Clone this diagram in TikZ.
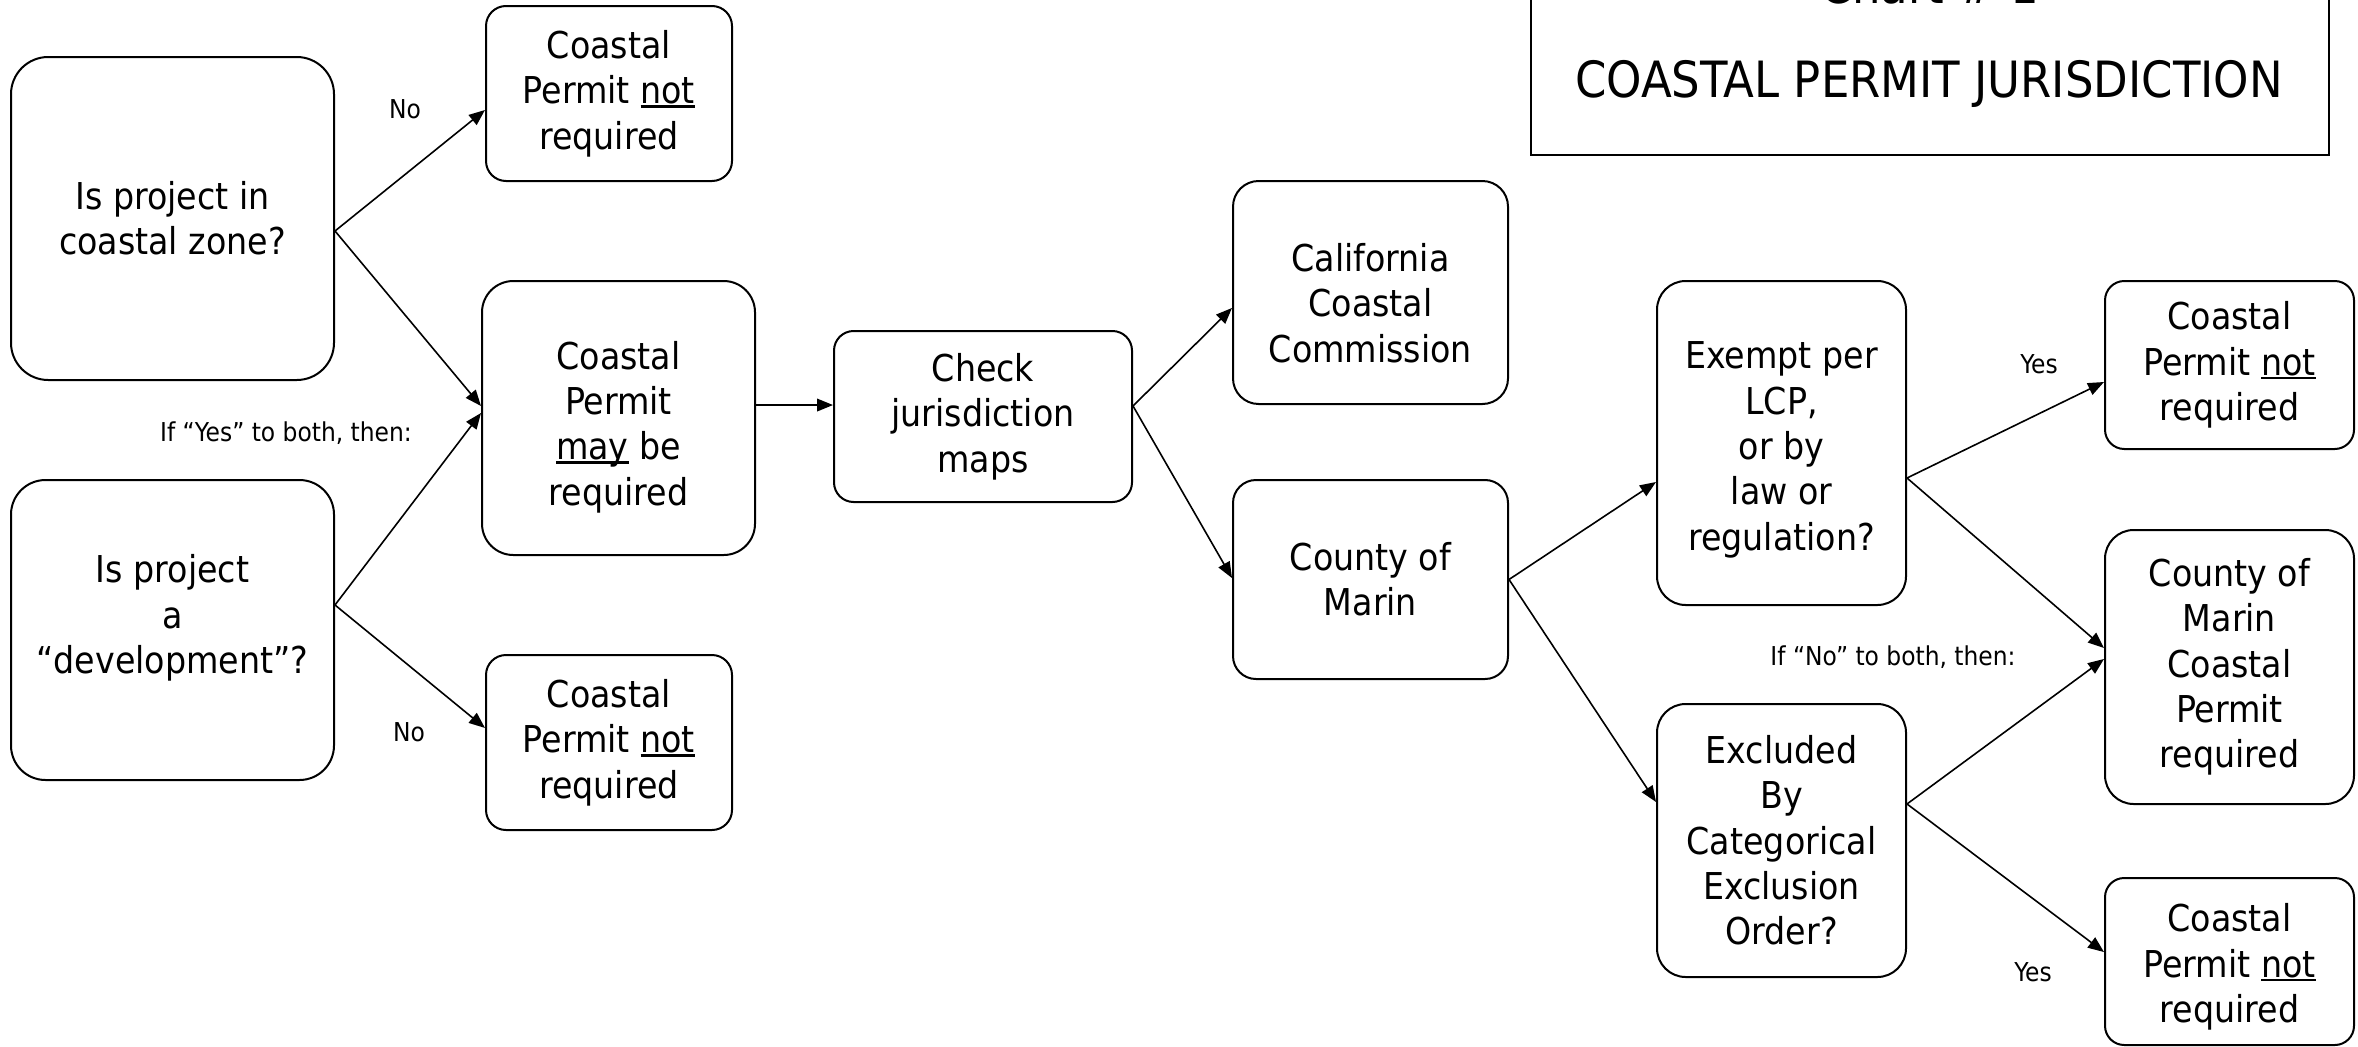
\documentclass[tikz,border=0pt]{standalone}
\usepackage{fontspec}
\setmainfont{DejaVu Sans Condensed}
\usetikzlibrary{arrows.meta}
\newcommand{\boxfont}{\fontsize{27.75pt}{34pt}\selectfont}
\newcommand{\lblfont}{\fontsize{19.5pt}{22pt}\selectfont}
\newcommand{\ttlfont}{\fontsize{37.5pt}{44pt}\selectfont}
\newcommand{\ulx}[1]{\setbox0=\hbox{#1}\rlap{\rule[-0.11em]{\wd0}{0.07em}}\box0\relax}
\tikzset{
  box/.style n args={3}{draw, line width=1.5pt, rounded corners=#3,
    minimum width=#1*0.75pt, minimum height=#2*0.75pt, inner sep=0pt,
    align=center, font=\boxfont},
  boxtext/.style={inner sep=0pt, align=center, font=\boxfont},
  arr/.style={line width=1.2pt, -{Triangle[length=12pt,width=9.5pt]}},
  lbl/.style={font=\lblfont, inner sep=0pt},
}
\begin{document}
\begin{tikzpicture}[x=0.75pt,y=-0.75pt]
\useasboundingbox (0,0) rectangle (2358,1046);
\clip (0,0) rectangle (2358,1046);
\fill[white] (0,0) rectangle (2358,1046);
% title
\node[draw, line width=1.5pt, minimum width=798*0.75pt, minimum height=215*0.75pt, inner sep=0pt] (tbox) at (1930,47.5) {};
\node[font=\ttlfont, anchor=base, inner sep=0pt] (chart) at (1930,3) {Chart \# 1};
\node[font=\ttlfont, anchor=base, inner sep=0pt] (ttl) at (1929,97) {COASTAL PERMIT JURISDICTION};
% boxes
\node[box={323}{323}{27.9pt}] (q1) at (172.5,218.5) {Is project in\\coastal zone?};
\node[box={246}{175}{15pt}] (nt1) at (609,93.5) {Coastal\\Permit \ulx{not}\\required};
\node[box={273}{274}{23.5pt}] (may) at (618.5,418) {};
\node[boxtext] (mayt) at (618.5,427) {Coastal\\Permit\\\ulx{may} be\\required};
\node[box={323}{300}{25.9pt}] (q2) at (172.5,630) {};
\node[boxtext] (q2t) at (172.5,618) {Is project\\a\\``development''?};
\node[box={246}{175}{15pt}] (nt2) at (609,742.5) {Coastal\\Permit \ulx{not}\\required};
\node[box={298}{171}{14.7pt}] (check) at (983,416.5) {Check\\jurisdiction\\maps};
\node[box={275}{223}{19.2pt}] (ccc) at (1370.5,292.5) {};
\node[boxtext] (ccct) at (1370.5,303) {California\\Coastal\\Commission};
\node[box={275}{199}{17.2pt}] (com) at (1370.5,579.5) {County of\\Marin};
\node[box={249}{324}{21.5pt}] (exm) at (1781.5,443) {};
\node[boxtext] (exmt) at (1781.5,450) {Exempt per\\LCP,\\or by\\law or\\regulation?};
\node[box={249}{273}{21.5pt}] (exc) at (1781.5,840.5) {Excluded\\By\\Categorical\\Exclusion\\Order?};
\node[box={249}{168}{14.5pt}] (nt3) at (2229.5,365) {Coastal\\Permit \ulx{not}\\required};
\node[box={249}{274}{21.5pt}] (cmp) at (2229.5,667) {County of\\Marin\\Coastal\\Permit\\required};
\node[box={249}{167}{14.4pt}] (nt4) at (2229.5,961.5) {};
\node[boxtext] (nt4t) at (2229.5,967) {Coastal\\Permit \ulx{not}\\required};
% labels
\node[lbl] (lno1) at (405,109) {No};
\node[lbl] (lyes2) at (286,433) {If ``Yes'' to both, then:};
\node[lbl] (lno2) at (409,732) {No};
\node[lbl] (lyes1) at (2039,364) {Yes};
\node[lbl] (lno3) at (1893,657) {If ``No'' to both, then:};
\node[lbl] (lyes3) at (2033,972) {Yes};
% arrows
\draw[arr] ([yshift=-12.5*0.75pt]q1.east) -- ([yshift=-16.5*0.75pt]nt1.west);
\draw[arr] ([yshift=-12.5*0.75pt]q1.east) -- ([yshift=12*0.75pt]may.west);
\draw[arr] ([yshift=18.75pt]q2.east) -- ([yshift=3.75pt]may.west);
\draw[arr] ([yshift=18.75pt]q2.east) -- ([yshift=10.9pt]nt2.west);
\draw[arr] ([yshift=9.75pt]may.east) -- ([yshift=8.6pt]check.west);
\draw[arr] ([yshift=7.9pt]check.east) -- ([yshift=-11.6pt]ccc.west);
\draw[arr] ([yshift=7.9pt]check.east) -- ([yshift=1.1pt]com.west);
\draw[arr] (com.east) -- ([yshift=-29.25pt]exm.west);
\draw[arr] (com.east) -- ([yshift=28.9pt]exc.west);
\draw[arr] ([yshift=-26.25pt]exm.east) -- ([yshift=-12.75pt]nt3.west);
\draw[arr] ([yshift=-26.25pt]exm.east) -- ([yshift=14.25pt]cmp.west);
\draw[arr] ([yshift=27.4pt]exc.east) -- ([yshift=6pt]cmp.west);
\draw[arr] ([yshift=27.4pt]exc.east) -- ([yshift=7.1pt]nt4.west);
\end{tikzpicture}
\end{document}
